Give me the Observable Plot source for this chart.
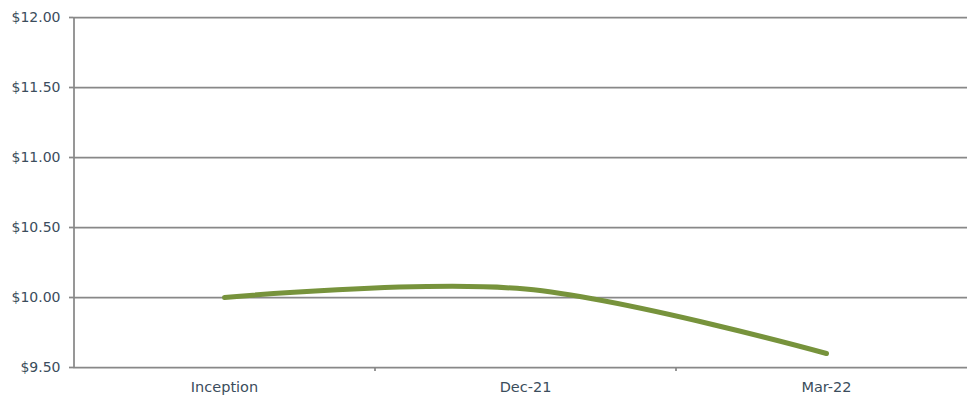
<!DOCTYPE html>
<html><head><meta charset="utf-8">
<script src="https://cdn.jsdelivr.net/npm/d3@7"></script>
<script src="https://cdn.jsdelivr.net/npm/@observablehq/plot@0.6"></script>
<style>
html,body{margin:0;padding:0;background:#fff;}
#chart svg{display:block;}
</style>
</head><body><div id="chart"></div>
<script>
const categories = ["Inception", "Dec-21", "Mar-22"];
const navValues = [10.00, 10.06, 9.60];
const yTicks = [9.5, 10, 10.5, 11, 11.5, 12];

const data = categories.map((c, i) => ({i, label: c, value: navValues[i]}));
const gridColor = "#888888";
const textColor = "#3b4d5c";

const chart = Plot.plot({
  width: 967,
  height: 396,
  marginTop: 17,
  marginBottom: 29,
  marginLeft: 73,
  marginRight: 0,
  style: {fontFamily: "'DejaVu Sans', sans-serif", fontSize: "14px", color: textColor, background: "#fff"},
  x: {type: "linear", domain: [-0.5, 2.5], range: [73.5, 976.5]},
  y: {domain: [9.5, 12], ticks: yTicks},
  marks: [
    Plot.ruleY(yTicks, {stroke: gridColor, strokeWidth: 1.75, strokeOpacity: 1}),
    Plot.ruleX([-0.5], {stroke: gridColor, strokeWidth: 1.75}),
    Plot.axisY({ticks: yTicks, tickSize: 4, tickPadding: 9, stroke: gridColor, strokeWidth: 1.75,
      tickFormat: d => "$" + d.toFixed(2), label: null, fill: textColor, fontSize: 14}),
    Plot.axisX({ticks: [0, 1, 2], tickSize: 0, tickPadding: 14, tickFormat: i => categories[i], label: null, fill: textColor, fontSize: 14.5}),
    Plot.axisX({ticks: [0.5, 1.5], tickSize: 4, tickFormat: () => "", label: null, stroke: gridColor, strokeWidth: 1.75}),
    Plot.line(data, {x: "i", y: "value", curve: "cardinal", stroke: "#77933c", strokeWidth: 5, strokeLinecap: "round"})
  ]
});
document.getElementById("chart").append(chart);
</script>
</body></html>
